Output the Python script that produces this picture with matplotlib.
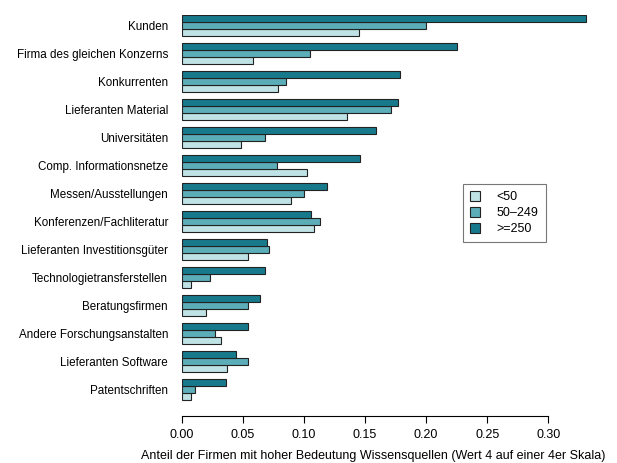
import numpy as np
import matplotlib.pyplot as plt

plt.rcParams['font.family'] = ['Liberation Sans', 'DejaVu Sans']

# Data (top to bottom)
categories = ['Kunden', 'Firma des gleichen Konzerns', 'Konkurrenten',
              'Lieferanten Material', 'Universitäten', 'Comp. Informationsnetze',
              'Messen/Ausstellungen', 'Konferenzen/Fachliteratur',
              'Lieferanten Investitionsgüter', 'Technologietransferstellen',
              'Beratungsfirmen', 'Andere Forschungsanstalten',
              'Lieferanten Software', 'Patentschriften']
small = [0.145, 0.058, 0.079, 0.135, 0.048, 0.102, 0.089, 0.108,
         0.054, 0.007, 0.020, 0.032, 0.037, 0.007]
medium = [0.200, 0.105, 0.085, 0.171, 0.068, 0.078, 0.100, 0.113,
          0.071, 0.023, 0.054, 0.027, 0.054, 0.011]
large = [0.331, 0.225, 0.179, 0.177, 0.159, 0.146, 0.119, 0.106,
         0.070, 0.068, 0.064, 0.054, 0.044, 0.036]
series_labels = ['<50', '50\u2013249', '>=250']
colors = ['#BFE2E5', '#5BADB8', '#177A8C']

fig = plt.figure(figsize=(6.17, 4.63), dpi=100)
ax = fig.add_axes([182 / 617, 47 / 463, (597 - 182) / 617, (416 - 15.3) / 463])

n = len(categories)
# group i from bottom starts at 4*i + 1 (bar width 1, gap 1)
base = np.array([4 * (n - 1 - i) + 1 for i in range(n)], dtype=float)
handles = []
for k, vals in enumerate([small, medium, large]):
    h = ax.barh(base + k + 0.5, vals, height=1.0, color=colors[k],
                edgecolor='#222222', linewidth=0.8, label=series_labels[k])
    handles.append(h)

ax.set_xlim(0, 0.34)
ax.set_ylim(-9 / 7, 56)
ax.set_yticks(base + 1.5)
ax.set_yticklabels(categories, fontsize=8.4)
ax.tick_params(axis='y', length=0, pad=10)

ax.set_xticks(np.arange(0, 0.31, 0.05))
ax.set_xticklabels([f'{v:.2f}' for v in np.arange(0, 0.31, 0.05)], fontsize=9)
ax.tick_params(axis='x', length=5, width=0.8, pad=4)
for s in ['top', 'right', 'left']:
    ax.spines[s].set_visible(False)
ax.spines['bottom'].set_bounds(0, 0.30)
ax.spines['bottom'].set_linewidth(0.8)

ax.set_xlabel('Anteil der Firmen mit hoher Bedeutung Wissensquellen (Wert 4 auf einer 4er Skala)',
              fontsize=9, labelpad=6)
ax.xaxis.set_label_coords((373 - 182) / (597 - 182), -0.085)

leg = ax.legend(handles, series_labels, loc='upper left',
                bbox_to_anchor=(463 / 617, 1 - 184 / 463),
                bbox_transform=fig.transFigure, fontsize=9, frameon=True,
                fancybox=False, edgecolor='#555555', handlelength=0.85,
                handleheight=0.85, borderpad=0.55, labelspacing=0.3,
                handletextpad=1.3, borderaxespad=0)
leg.get_frame().set_linewidth(0.8)

fig.savefig('out.png', dpi=100)
